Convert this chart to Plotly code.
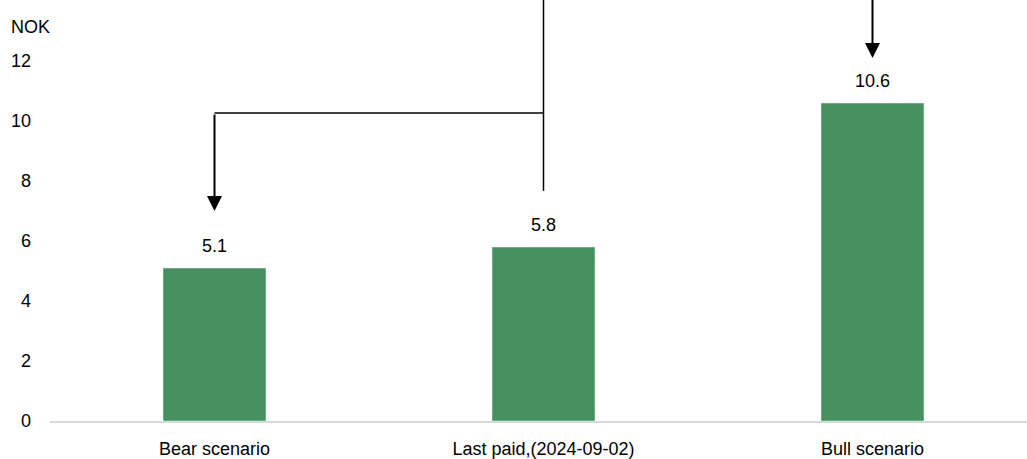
import plotly.graph_objects as go

categories = ["Bear scenario", "Last paid,(2024-09-02)", "Bull scenario"]
values = [5.1, 5.8, 10.6]
value_labels = ["5.1", "5.8", "10.6"]
y_ticks = [0, 2, 4, 6, 8, 10, 12]
unit_label = "NOK"

BAR_COLOR = "#46925F"
FONT = "Liberation Sans, Arial, sans-serif"

Y_TOP = 421 / 30.0          # top of plotting area in data units
BRANCH_Y = 10.27            # level of horizontal connector
STEM_BOTTOM = 7.67          # bottom of connector from "Last paid"
BEAR_TIP = 7.0
BULL_TIP = 12.1

fig = go.Figure()
fig.add_trace(go.Bar(
    x=[0, 1, 2], y=values, marker_color=BAR_COLOR, width=0.313,
    showlegend=False, hoverinfo="skip",
))

# data labels
for i, (v, t) in enumerate(zip(values, value_labels)):
    fig.add_annotation(x=i, y=v, text=t, showarrow=False, yanchor="middle",
                       yshift=22, font=dict(family=FONT, size=18, color="#000"))

# connector from Last paid: stem and horizontal branch
fig.add_shape(type="line", x0=1, x1=1, y0=STEM_BOTTOM, y1=Y_TOP + 0.2,
              line=dict(color="#000", width=1.5))
fig.add_shape(type="line", x0=0, x1=1, y0=BRANCH_Y, y1=BRANCH_Y,
              line=dict(color="#000", width=1.5))

# arrows
fig.add_annotation(x=0, y=BEAR_TIP, ax=0, ay=BRANCH_Y, xref="x", yref="y",
                   axref="x", ayref="y", showarrow=True, arrowhead=2,
                   arrowwidth=2, arrowsize=1.5, arrowcolor="#000", text="")
fig.add_annotation(x=2, y=BULL_TIP, ax=2, ay=Y_TOP + 0.2, xref="x", yref="y",
                   axref="x", ayref="y", showarrow=True, arrowhead=2,
                   arrowwidth=2, arrowsize=1.5, arrowcolor="#000", text="")

# unit label
fig.add_annotation(x=0, y=1, xref="paper", yref="paper", text=unit_label,
                   showarrow=False, xanchor="left", yanchor="middle",
                   xshift=-41, yshift=-27,
                   font=dict(family=FONT, size=18, color="#000"))

fig.update_layout(
    width=1027, height=459,
    margin=dict(l=50, r=0, t=0, b=38),
    paper_bgcolor="white", plot_bgcolor="white",
    font=dict(family=FONT, size=18, color="#000"),
    xaxis=dict(
        range=[-0.5, 977 / 329 - 0.5], tickmode="array", tickvals=[0, 1, 2],
        ticktext=categories, showgrid=False, zeroline=False,
        showline=True, linecolor="#d9d9d9", linewidth=2,
        ticks="", ticklabelstandoff=10,
    ),
    yaxis=dict(
        range=[0, Y_TOP], tickvals=y_ticks, showgrid=False, zeroline=False,
        showline=False, ticks="", ticklabelstandoff=18,
    ),
)

fig.write_html("out.html")
